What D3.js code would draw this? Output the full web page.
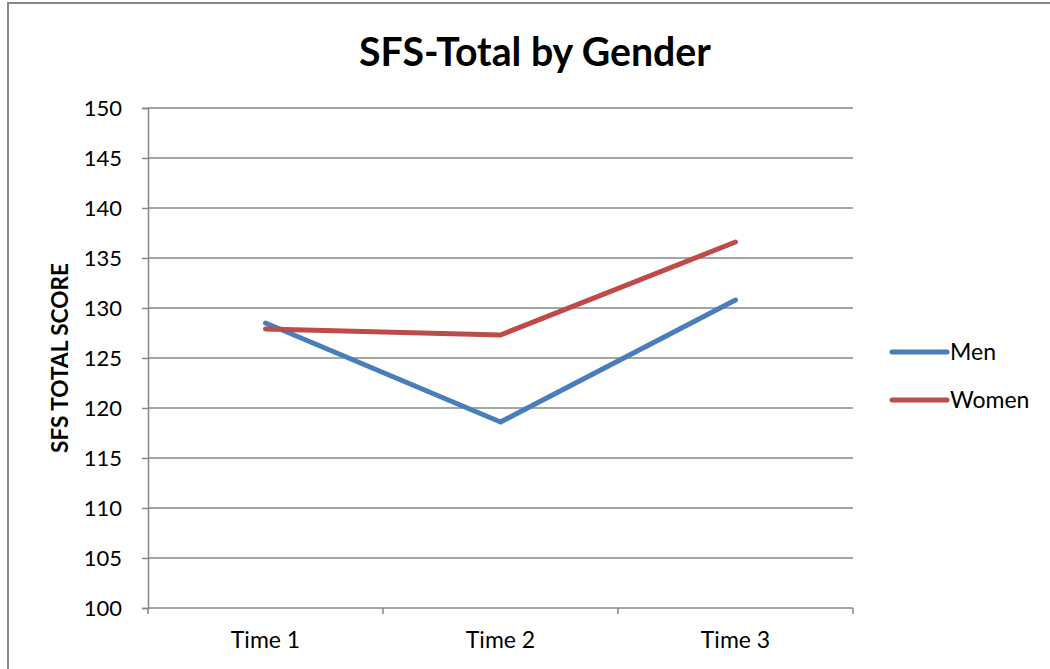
<!DOCTYPE html>
<html>
<head>
<meta charset="utf-8">
<script src="https://cdn.jsdelivr.net/npm/d3@7"></script>
<style>
  html, body { margin: 0; padding: 0; background: #fff; }
  svg { display: block; }
  text { font-family: Lato, "Open Sans", "DejaVu Sans", sans-serif; fill: #000; }
</style>
</head>
<body>
<svg id="chart" width="1050" height="669"></svg>
<script>
// Categories and series
const categories = ["Time 1", "Time 2", "Time 3"];
const seriesNames = ["Men", "Women"];
const menValues = [128.5, 118.6, 130.8];
const womenValues = [127.9, 127.3, 136.6];
const yTicks = [100, 105, 110, 115, 120, 125, 130, 135, 140, 145, 150];
const seriesColors = ["#4a7ebb", "#be4b48"];

const series = [
  { name: seriesNames[0], values: menValues, color: seriesColors[0] },
  { name: seriesNames[1], values: womenValues, color: seriesColors[1] }
];

const svg = d3.select("#chart");
const gridColor = "#878787";

// Outer chart frame (extends past the visible area on the right and bottom)
svg.append("rect")
  .attr("x", 8).attr("y", 3)
  .attr("width", 1100).attr("height", 700)
  .attr("fill", "#fff")
  .attr("stroke", gridColor)
  .attr("stroke-width", 2);

const plot = { left: 148, right: 853, top: 108, bottom: 608 };

const x = d3.scaleBand().domain(categories).range([plot.left, plot.right]).padding(0);
const y = d3.scaleLinear().domain([100, 150]).range([plot.bottom, plot.top]);

// Horizontal gridlines
svg.append("g")
  .selectAll("line")
  .data(yTicks.filter(t => t !== 100))
  .join("line")
  .attr("x1", plot.left).attr("x2", plot.right)
  .attr("y1", d => y(d)).attr("y2", d => y(d))
  .attr("stroke", gridColor)
  .attr("stroke-width", 1.5);

// Y axis
const yAxis = svg.append("g")
  .attr("transform", `translate(${plot.left},0)`)
  .call(d3.axisLeft(y).tickValues(yTicks).tickSize(6).tickPadding(20).tickFormat(d3.format("d")));
yAxis.select(".domain").attr("stroke", gridColor).attr("stroke-width", 1.5);
yAxis.selectAll(".tick line").attr("stroke", gridColor).attr("stroke-width", 1.5);
yAxis.selectAll(".tick text")
  .attr("font-size", 22)
  .style("font-family", "Lato, 'Open Sans', sans-serif")
  .attr("fill", "#000");

// X axis with ticks at category boundaries
const xAxis = svg.append("g")
  .attr("transform", `translate(0,${plot.bottom})`)
  .call(d3.axisBottom(x).tickSize(0).tickPadding(24));
xAxis.select(".domain").remove();
svg.append("line")
  .attr("x1", plot.left).attr("x2", plot.right)
  .attr("y1", plot.bottom).attr("y2", plot.bottom)
  .attr("stroke", gridColor).attr("stroke-width", 1.5);
const boundaries = categories.map(c => x(c)).concat([x(categories[categories.length - 1]) + x.bandwidth()]);
svg.append("g")
  .selectAll("line")
  .data(boundaries)
  .join("line")
  .attr("x1", d => d).attr("x2", d => d)
  .attr("y1", plot.bottom).attr("y2", plot.bottom + 6)
  .attr("stroke", gridColor).attr("stroke-width", 1.5);
xAxis.selectAll(".tick text")
  .attr("font-size", 23)
  .style("font-family", "Lato, 'Open Sans', sans-serif")
  .attr("fill", "#000");

// Series lines
const line = d3.line()
  .x((d, i) => x(categories[i]) + x.bandwidth() / 2)
  .y(d => y(d));

svg.append("g")
  .selectAll("path")
  .data(series)
  .join("path")
  .attr("d", d => line(d.values))
  .attr("fill", "none")
  .attr("stroke", d => d.color)
  .attr("stroke-width", 5)
  .attr("stroke-linecap", "round")
  .attr("stroke-linejoin", "round");

// Title
const title = svg.append("text")
  .attr("x", 535).attr("y", 66)
  .attr("text-anchor", "middle")
  .attr("font-weight", "bold")
  .attr("font-size", 36)
  .text("SFS-Total by Gender");
const tw = title.node().getComputedTextLength();
title.attr("font-size", 36 * 352 / tw);

// Y axis title
const yTitle = svg.append("text")
  .attr("transform", `translate(68,${(plot.top + plot.bottom) / 2}) rotate(-90)`)
  .attr("text-anchor", "middle")
  .attr("font-weight", "bold")
  .attr("font-size", 18)
  .text("SFS TOTAL SCORE");
const yw = yTitle.node().getComputedTextLength();
yTitle.attr("font-size", 18 * 190 / yw);

// Legend
const legend = svg.append("g")
  .selectAll("g")
  .data(series)
  .join("g")
  .attr("transform", (d, i) => `translate(892,${352 + i * 48})`);
legend.append("line")
  .attr("x1", 0).attr("x2", 55)
  .attr("y1", 0).attr("y2", 0)
  .attr("stroke", d => d.color)
  .attr("stroke-width", 5)
  .attr("stroke-linecap", "round");
legend.append("text")
  .attr("x", 58).attr("y", 0)
  .attr("dy", "0.35em")
  .attr("font-size", 23)
  .text(d => d.name);
</script>
</body>
</html>
